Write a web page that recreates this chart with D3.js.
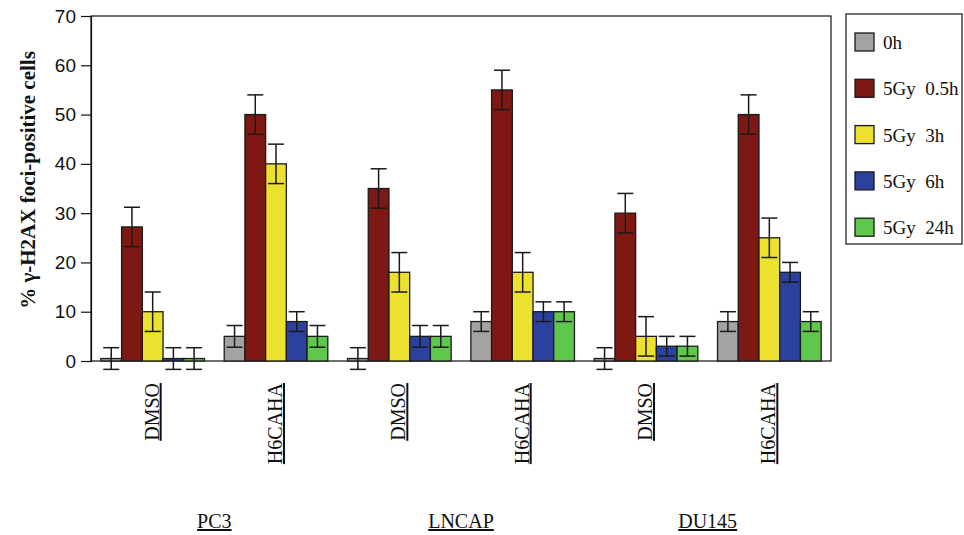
<!DOCTYPE html>
<html>
<head>
<meta charset="utf-8">
<script src="https://cdn.jsdelivr.net/npm/d3@7"></script>
<style>
  body { margin: 0; background: #fff; }
  svg { display: block; }
</style>
</head>
<body>
<div id="chart-area"></div>
<script>
// data
var groups = ["PC3 DMSO", "PC3 H6CAHA", "LNCAP DMSO", "LNCAP H6CAHA", "DU145 DMSO", "DU145 H6CAHA"];
var treatments = ["DMSO", "H6CAHA", "DMSO", "H6CAHA", "DMSO", "H6CAHA"];
var series = ["0h", "5Gy  0.5h", "5Gy  3h", "5Gy  6h", "5Gy  24h"];
var colors = ["#a3a3a3", "#7e1812", "#ebe12e", "#2c409e", "#5fc74b"];

var v0h   = [0.5, 5, 0.5, 8, 0.5, 8];
var v05h  = [27.2, 50, 35, 55, 30, 50];
var v3h   = [10, 40, 18, 18, 5, 25];
var v6h   = [0.5, 8, 5, 10, 3, 18];
var v24h  = [0.5, 5, 5, 10, 3, 8];

var e0h   = [2.2, 2.2, 2.2, 2, 2.2, 2];
var e05h  = [4, 4, 4, 4, 4, 4];
var e3h   = [4, 4, 4, 4, 4, 4];
var e6h   = [2.2, 2, 2.2, 2, 2, 2];
var e24h  = [2.2, 2.2, 2.2, 2, 2, 2];

var cellLines = ["PC3", "LNCAP", "DU145"];
var yTicks = [0, 10, 20, 30, 40, 50, 60, 70];

var values = [v0h, v05h, v3h, v6h, v24h];
var errors = [e0h, e05h, e3h, e6h, e24h];

var margin = { left: 91, right: 133, top: 16, bottom: 174 };
var width = 964 - margin.left - margin.right,
    height = 535 - margin.top - margin.bottom;

var svg = d3.select("#chart-area")
    .append("svg")
    .attr("width", 964)
    .attr("height", 535);

var g = svg.append("g")
    .attr("transform", "translate(" + margin.left + "," + margin.top + ")");

var x0 = d3.scaleBand()
    .domain(groups)
    .range([0, width])
    .paddingInner(0.16)
    .paddingOuter(0.08);

var x1 = d3.scaleBand()
    .domain(d3.range(series.length))
    .range([0, x0.bandwidth()]);

var y = d3.scaleLinear()
    .domain([0, 70])
    .range([height, 0]);

// rows of bar data
var rows = [];
groups.forEach(function (grp, i) {
    series.forEach(function (s, j) {
        rows.push({ group: grp, s: j, v: values[j][i], e: errors[j][i] });
    });
});

// frame
g.append("rect")
    .attr("x", 0).attr("y", 0)
    .attr("width", width).attr("height", height)
    .attr("fill", "none")
    .attr("stroke", "#111")
    .attr("stroke-width", 1.2);

// y axis
var yAxisCall = d3.axisLeft(y)
    .tickValues(yTicks)
    .tickSize(10)
    .tickPadding(5);
var yAxis = g.append("g").call(yAxisCall);
yAxis.select(".domain").attr("stroke", "#111").attr("stroke-width", 1.2);
yAxis.selectAll(".tick line").attr("stroke", "#111").attr("stroke-width", 1.2);
yAxis.selectAll("text")
    .attr("font-family", "Liberation Sans, Arial, sans-serif")
    .attr("font-size", "19px")
    .attr("fill", "#111");

// bars
g.selectAll("rect.bar")
    .data(rows)
    .enter()
    .append("rect")
    .attr("class", "bar")
    .attr("x", function (d) { return x0(d.group) + x1(d.s); })
    .attr("y", function (d) { return y(d.v); })
    .attr("width", x1.bandwidth())
    .attr("height", function (d) { return y(0) - y(d.v); })
    .attr("fill", function (d) { return colors[d.s]; })
    .attr("stroke", "#1a1a1a")
    .attr("stroke-width", 1.3);

// error bars
var capW = 16;
var eb = g.selectAll("g.err")
    .data(rows)
    .enter()
    .append("g")
    .attr("class", "err")
    .attr("transform", function (d) {
        return "translate(" + (x0(d.group) + x1(d.s) + x1.bandwidth() / 2) + ",0)";
    })
    .attr("stroke", "#1a1a1a")
    .attr("stroke-width", 1.5);
eb.append("line")
    .attr("x1", 0).attr("x2", 0)
    .attr("y1", function (d) { return y(d.v - d.e); })
    .attr("y2", function (d) { return y(d.v + d.e); });
eb.append("line")
    .attr("x1", -capW / 2).attr("x2", capW / 2)
    .attr("y1", function (d) { return y(d.v + d.e); })
    .attr("y2", function (d) { return y(d.v + d.e); });
eb.append("line")
    .attr("x1", -capW / 2).attr("x2", capW / 2)
    .attr("y1", function (d) { return y(d.v - d.e); })
    .attr("y2", function (d) { return y(d.v - d.e); });

// treatment labels (rotated)
g.selectAll("text.treat")
    .data(groups)
    .enter()
    .append("text")
    .attr("class", "treat")
    .attr("transform", function (d) {
        return "translate(" + (x0(d) + x0.bandwidth() / 2 + 6) + "," + (height + 22) + ") rotate(-90)";
    })
    .attr("text-anchor", "end")
    .attr("font-family", "Liberation Serif, Times New Roman, serif")
    .attr("font-size", "20px")
    .attr("fill", "#111")
    .style("text-decoration", "underline")
    .text(function (d, i) { return treatments[i]; });

// cell line labels, centred under each DMSO/H6CAHA pair
g.selectAll("text.cell")
    .data(cellLines)
    .enter()
    .append("text")
    .attr("class", "cell")
    .attr("x", function (d, i) {
        return (x0(groups[2 * i]) + x0(groups[2 * i + 1]) + x0.bandwidth()) / 2;
    })
    .attr("y", 528 - margin.top)
    .attr("text-anchor", "middle")
    .attr("font-family", "Liberation Serif, Times New Roman, serif")
    .attr("font-size", "20px")
    .attr("fill", "#111")
    .style("text-decoration", "underline")
    .text(function (d) { return d; });

// Y label
svg.append("text")
    .attr("transform", "translate(35,180) rotate(-90)")
    .attr("text-anchor", "middle")
    .attr("font-family", "Liberation Serif, Times New Roman, serif")
    .attr("font-weight", "bold")
    .attr("font-size", "21px")
    .attr("fill", "#111")
    .text("% γ-H2AX foci-positive cells");

// legend
var legend = svg.append("g").attr("transform", "translate(846,14)");
legend.append("rect")
    .attr("x", 0).attr("y", 0)
    .attr("width", 116).attr("height", 230)
    .attr("fill", "#fff")
    .attr("stroke", "#111")
    .attr("stroke-width", 1.2);
var item = legend.selectAll("g.item")
    .data(series)
    .enter()
    .append("g")
    .attr("class", "item")
    .attr("transform", function (d, i) { return "translate(9," + (28 + i * 46.3) + ")"; });
item.append("rect")
    .attr("x", 0).attr("y", -9)
    .attr("width", 19).attr("height", 18)
    .attr("fill", function (d, i) { return colors[i]; })
    .attr("stroke", "#1a1a1a")
    .attr("stroke-width", 1.3);
item.append("text")
    .attr("x", 28)
    .attr("y", 7)
    .attr("font-family", "Liberation Serif, Times New Roman, serif")
    .attr("font-size", "19px")
    .attr("fill", "#111")
    .style("white-space", "pre")
    .text(function (d) { return d; });
</script>
</body>
</html>
